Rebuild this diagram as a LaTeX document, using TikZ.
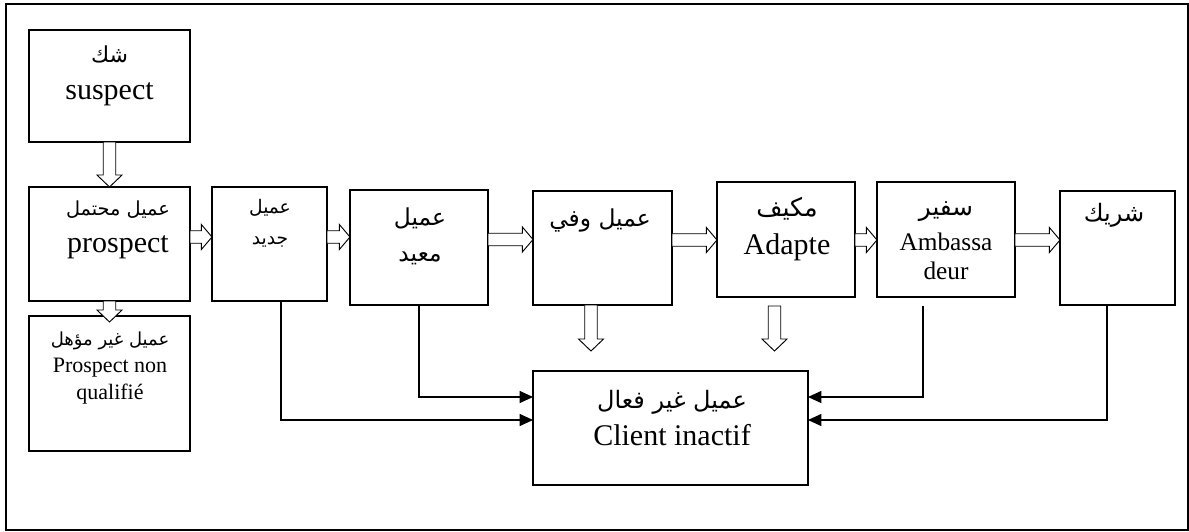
\documentclass[tikz,border=0pt]{standalone}
\usepackage{fontspec}
\setmainfont{Liberation Serif}
\newfontfamily\arabicfont[Script=Arabic]{DejaVu Sans}
\TeXXeTstate=1
\usetikzlibrary{calc,arrows.meta}

\newcommand{\artxt}[2][15]{{\arabicfont\fontsize{#1}{#1}\selectfont\beginR #2\endR}}

\begin{document}
\begin{tikzpicture}[x=0.75pt,y=-0.75pt]

                \tikzstyle{box} = [rectangle, draw, line width=0.8pt, inner sep=0pt, outer sep=0pt]
                \tikzstyle{txt} = [align=center, inner sep=0pt, font=\fontsize{22.5}{28}\selectfont]
                \tikzstyle{thinarrow} = [line width=0.8pt, -{Triangle[length=10pt,width=9pt]}]
                \tikzstyle{fatright} = [draw, fill=white, line width=0.7pt, to path={let \p1=(\tikztostart), \p2=(\tikztotarget) in
                  (\x1,\y1+4.7pt) -- (\x2-8pt,\y1+4.7pt) -- (\x2-8pt,\y1+9.4pt) -- (\x2,\y1) -- (\x2-8pt,\y1-9.4pt) -- (\x2-8pt,\y1-4.7pt) -- (\x1,\y1-4.7pt) -- cycle}]
                \tikzstyle{fatdown} = [draw, fill=white, line width=0.7pt, to path={let \p1=(\tikztostart), \p2=(\tikztotarget) in
                  (\x1-4.7pt,\y1) -- (\x1-4.7pt,\y2+9pt) -- (\x1-9.4pt,\y2+9pt) -- (\x1,\y2) -- (\x1+9.4pt,\y2+9pt) -- (\x1+4.7pt,\y2+9pt) -- (\x1+4.7pt,\y1) -- cycle}]

                \useasboundingbox (0,0) rectangle (1189,532);
                \draw[line width=0.9pt] (6,4) rectangle (1188,530);

                % boxes
                \node [box, minimum width=120.75pt, minimum height=84pt](suspect) at (109.5, 86) {};
                \node [box, minimum width=120.75pt, minimum height=85.5pt](prospect) at (109.5, 244) {};
                \node [box, minimum width=120.75pt, minimum height=101.25pt](nonqual) at (109.5, 383.5) {};
                \node [box, minimum width=86.25pt, minimum height=85.5pt](jadid) at (269.5, 244) {};
                \node [box, minimum width=103.5pt, minimum height=86.25pt](mouid) at (419, 247.5) {};
                \node [box, minimum width=104.25pt, minimum height=85.5pt](wafi) at (602.5, 248) {};
                \node [box, minimum width=103.5pt, minimum height=86.25pt](adapte) at (786, 239.5) {};
                \node [box, minimum width=103.5pt, minimum height=86.25pt](amb) at (946, 239.5) {};
                \node [box, minimum width=86.25pt, minimum height=85.5pt](charik) at (1117.5, 248) {};
                \node [box, minimum width=206.25pt, minimum height=85.5pt](client) at (670.5, 428) {};

                % texts
                \node [txt](suspect-t) at (109.5, 76) {\artxt[16.5]{شك}\\ suspect};
                \node [txt](prospect-t) at (118, 230) {\artxt[14.5]{عميل محتمل}\\ prospect};
                \node [txt, font=\fontsize{16.5}{20.5}\selectfont](nonqual-t) at (110, 368) {\artxt[13.5]{عميل غير مؤهل}\\ Prospect non\\ qualifié};
                \node [txt, font=\fontsize{15}{23}\selectfont](jadid-t) at (270, 223) {\artxt[14]{عميل}\\ \artxt[14]{جديد}};
                \node [txt, font=\fontsize{18}{27}\selectfont](mouid-t) at (420, 236) {\artxt[17.5]{عميل}\\ \artxt[17.5]{معيد}};
                \node [txt](wafi-t) at (600, 220) {\artxt[17.5]{عميل وفي}};
                \node [txt](adapte-t) at (787, 229) {\artxt[19]{مكيف}\\ Adapte};
                \node [txt, font=\fontsize{19}{22}\selectfont](amb-t) at (946, 241) {\artxt[18.5]{سفير}\\[4pt] Ambassa\\ deur};
                \node [txt](charik-t) at (1114, 215) {\artxt[18]{شريك}};
                \node [txt](client-t) at (672, 418) {\artxt[18]{عميل غير فعال}\\ Client inactif};

                % hollow arrows
                \draw[fatdown] (suspect.south) to (prospect.north);
                \draw[fatdown] (prospect.south) to ($(nonqual.north)+(0,6)$);
                \draw[fatright] (prospect.east |- 0,237) to (jadid.west |- 0,237);
                \draw[fatright] (jadid.east |- 0,237) to (mouid.west |- 0,237);
                \draw[fatright] (mouid.east |- 0,239.5) to (wafi.west |- 0,239.5);
                \draw[fatright] (wafi.east |- 0,240) to (adapte.west |- 0,240);
                \draw[fatright] (adapte.east |- 0,240) to (amb.west |- 0,240);
                \draw[fatright] (amb.east |- 0,240) to (charik.west |- 0,240);
                \draw[fatdown] (wafi.south -| 591,0) to ($(client.north -| 591,0)+(0,-20)$);
                \draw[fatdown] ($(adapte.south -| 774.5,0)+(0,9)$) to ($(client.north -| 774.5,0)+(0,-20)$);

                % lines to client inactif
                \draw[thinarrow] (jadid.south -| 281,0) |- (client.west |- 0,420);
                \draw[thinarrow] (mouid.south) |- (client.west |- 0,397);
                \draw[thinarrow] ($(amb.south -| 923,0)+(0,9)$) |- (client.east |- 0,397);
                \draw[thinarrow] (charik.south -| 1107,0) |- (client.east |- 0,420);
\end{tikzpicture}
\end{document}
